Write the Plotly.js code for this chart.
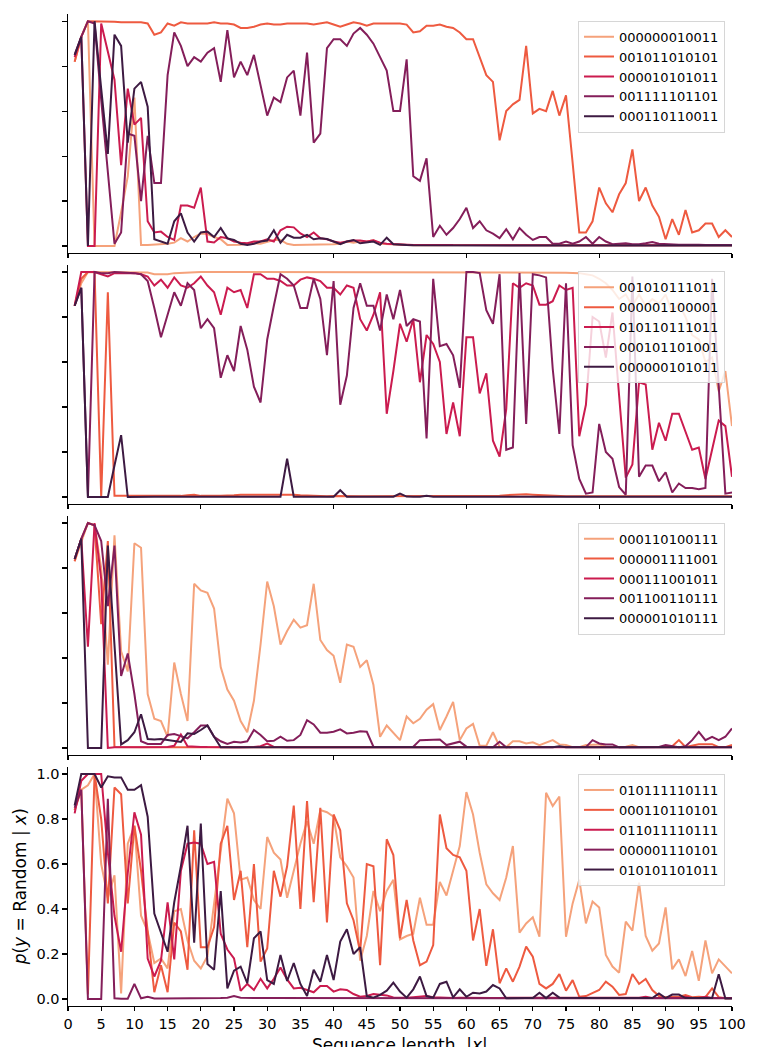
<!DOCTYPE html>
<html><head><meta charset="utf-8">
<script src="https://cdn.plot.ly/plotly-3.0.1.min.js"></script>
<style>html,body{margin:0;padding:0;background:#fff}#chart{width:761px;height:1047px}</style>
</head><body><div id="chart"></div>
<script>
const seqLen = [1,2,3,4,5,6,7,8,9,10,11,12,13,14,15,16,17,18,19,20,21,22,23,24,25,26,27,28,29,30,31,32,33,34,35,36,37,38,39,40,41,42,43,44,45,46,47,48,49,50,51,52,53,54,55,56,57,58,59,60,61,62,63,64,65,66,67,68,69,70,71,72,73,74,75,76,77,78,79,80,81,82,83,84,85,86,87,88,89,90,91,92,93,94,95,96,97,98,99,100];

const colors = ['#f5a27b', '#ee5a40', '#cb1b4f', '#841e5a', '#3d1a42'];

const names1 = ['000000010011', '001011010101', '000010101011', '001111101101', '000110110011'];
const names2 = ['001010111011', '000001100001', '010110111011', '000101101001', '000000101011'];
const names3 = ['000110100111', '000001111001', '000111001011', '001100110111', '000001010111'];
const names4 = ['010111110111', '000110110101', '011011110111', '000001110101', '010101101011'];

const xTicksBottom = [0,5,10,15,20,25,30,35,40,45,50,55,60,65,70,75,80,85,90,95,100];
const yTicks = [0.0,0.2,0.4,0.6,0.8,1.0];
const xTitle = 'Sequence length, |<i>x</i>|';
const yTitle = '<i>p</i>(<i>y</i> = Random | <i>x</i>)';

// ---- Panel 1 ----
const p1Light = [0.82,0.93,1.0,0.0,0.0,0.0,0.0,0.15,0.31,0.66,
 0.005,0.005,0.006,0.008,0.01,0.015,0.035,0.02,0.04,0.056,
 0.053,0.04,0.03,0.005,0.005,0.006,0.01,0.012,0.01,0.02,
 0.027,0.027,0.01,0.005,0.005,0.005,0.005,0.005,0.005,0.008,
 0.01,0.02,0.015,0.02,0.02,0.025,0.01,0.008,0.005,0.005,
 0.004,0.003,0.004,0.005,0.004,0.003,0.004,0.004,0.003,0.004,
 0.005,0.004,0.003,0.003,0.004,0.004,0.003,0.004,0.005,0.004,
 0.003,0.003,0.004,0.003,0.003,0.004,0.003,0.003,0.004,0.003,
 0.003,0.003,0.004,0.003,0.003,0.003,0.004,0.003,0.003,0.003,
 0.003,0.003,0.003,0.004,0.003,0.003,0.003,0.003,0.003,0.003];
const p1Orange = [0.82,0.93,1.0,1.0,1.0,1.0,0.998,0.995,0.995,0.995,
 0.995,0.99,0.94,0.95,0.99,0.98,0.995,0.99,0.99,0.99,
 0.99,0.995,0.99,0.99,0.985,0.97,0.97,0.975,0.985,0.99,
 0.985,0.985,0.99,0.99,0.99,0.99,0.985,0.99,0.995,0.985,
 0.975,0.985,0.995,0.99,0.98,0.99,0.99,0.99,0.99,0.99,
 0.985,0.95,0.955,0.98,0.98,0.985,0.975,0.97,0.95,0.92,
 0.92,0.84,0.76,0.73,0.47,0.60,0.63,0.65,0.89,0.59,
 0.61,0.60,0.69,0.58,0.67,0.37,0.06,0.06,0.11,0.26,
 0.19,0.15,0.23,0.28,0.43,0.20,0.26,0.18,0.13,0.03,
 0.12,0.05,0.16,0.06,0.07,0.10,0.10,0.04,0.07,0.04];
const p1Crimson = [0.84,0.93,0.0,0.0,0.99,0.86,0.74,0.36,0.70,0.54,
 0.57,0.11,0.06,0.064,0.04,0.027,0.18,0.18,0.17,0.26,
 0.02,0.016,0.04,0.035,0.02,0.015,0.012,0.02,0.02,0.03,
 0.02,0.07,0.086,0.083,0.056,0.04,0.06,0.034,0.03,0.02,
 0.015,0.02,0.025,0.025,0.02,0.025,0.015,0.01,0.008,0.006,
 0.005,0.005,0.004,0.005,0.004,0.004,0.005,0.004,0.004,0.004,
 0.003,0.004,0.004,0.003,0.004,0.003,0.004,0.005,0.004,0.003,
 0.003,0.004,0.003,0.003,0.004,0.003,0.003,0.003,0.004,0.003,
 0.003,0.003,0.003,0.003,0.004,0.003,0.003,0.003,0.003,0.003,
 0.003,0.003,0.003,0.003,0.003,0.003,0.003,0.003,0.003,0.003];
const p1Purple = [0.85,0.93,1.0,0.99,0.65,0.33,0.01,0.06,0.5,0.49,
 0.2,0.49,0.28,0.28,0.76,0.95,0.89,0.80,0.84,0.82,
 0.86,0.88,0.73,0.96,0.75,0.82,0.76,0.85,0.72,0.58,
 0.66,0.64,0.75,0.78,0.58,0.86,0.46,0.5,0.88,0.92,
 0.92,0.89,0.945,0.97,0.94,0.9,0.84,0.78,0.60,0.60,
 0.83,0.31,0.29,0.39,0.04,0.09,0.05,0.08,0.12,0.17,
 0.08,0.11,0.07,0.055,0.035,0.075,0.03,0.08,0.05,0.027,
 0.04,0.04,0.01,0.01,0.02,0.01,0.02,0.04,0.01,0.04,
 0.02,0.008,0.01,0.012,0.008,0.008,0.012,0.018,0.01,0.008,
 0.008,0.006,0.006,0.007,0.006,0.005,0.006,0.005,0.005,0.005];
const p1Dark = [0.85,0.93,0.0,1.0,0.7,0.41,0.94,0.89,0.46,0.70,
 0.73,0.62,0.03,0.02,0.01,0.11,0.145,0.06,0.02,0.06,
 0.064,0.04,0.08,0.034,0.027,0.01,0.005,0.01,0.02,0.024,
 0.07,0.015,0.05,0.037,0.037,0.05,0.03,0.034,0.031,0.02,
 0.008,0.02,0.027,0.012,0.015,0.02,0.005,0.037,0.008,0.005,
 0.004,0.003,0.003,0.004,0.003,0.003,0.002,0.003,0.002,0.003,
 0.002,0.002,0.003,0.002,0.002,0.002,0.003,0.002,0.002,0.002,
 0.002,0.002,0.002,0.002,0.002,0.002,0.002,0.002,0.002,0.002,
 0.002,0.002,0.002,0.002,0.002,0.002,0.002,0.002,0.002,0.002,
 0.002,0.002,0.002,0.002,0.002,0.002,0.002,0.002,0.002,0.002];

// ---- Panel 2 ----
const p2Light = [0.85,0.95,1.0,1.0,1.0,0.998,0.998,0.998,0.998,0.998,
 0.998,0.998,0.99,0.99,0.99,0.995,0.997,0.998,0.998,1.0,
 1.0,1.0,1.0,1.0,1.0,1.0,1.0,1.0,1.0,1.0,
 1.0,1.0,1.0,1.0,1.0,1.0,1.0,1.0,1.0,1.0,
 1.0,1.0,1.0,1.0,1.0,1.0,1.0,1.0,1.0,1.0,
 1.0,1.0,1.0,1.0,1.0,1.0,1.0,1.0,1.0,1.0,
 1.0,1.0,1.0,1.0,1.0,1.0,1.0,1.0,1.0,1.0,
 0.998,0.998,0.997,0.997,0.997,0.996,0.995,0.99,0.985,0.97,
 0.95,0.92,0.88,0.9,0.85,0.9,0.85,0.88,0.86,0.9,
 0.82,0.86,0.8,0.72,0.7,0.6,0.62,0.47,0.56,0.315];
const p2Orange = [0.85,0.97,1.0,1.0,0.0,0.91,0.005,0.005,0.004,0.006,
 0.004,0.004,0.003,0.003,0.004,0.004,0.005,0.008,0.01,0.005,
 0.004,0.005,0.006,0.006,0.008,0.01,0.01,0.012,0.01,0.012,
 0.01,0.01,0.012,0.01,0.008,0.006,0.004,0.004,0.003,0.004,
 0.003,0.003,0.004,0.003,0.003,0.003,0.003,0.003,0.003,0.003,
 0.003,0.003,0.003,0.003,0.003,0.003,0.003,0.003,0.003,0.004,
 0.004,0.004,0.005,0.006,0.006,0.008,0.01,0.012,0.012,0.01,
 0.008,0.006,0.005,0.004,0.003,0.003,0.003,0.003,0.003,0.003,
 0.003,0.003,0.003,0.003,0.003,0.003,0.003,0.003,0.003,0.003,
 0.003,0.003,0.003,0.003,0.003,0.003,0.003,0.003,0.003,0.003];
const p2Crimson = [0.85,1.0,1.0,1.0,0.99,0.98,0.995,0.995,0.995,0.995,
 0.99,0.98,0.94,0.966,0.93,0.976,0.94,0.93,0.95,0.98,
 0.94,0.91,0.81,0.93,0.91,0.92,0.84,0.99,0.99,0.97,
 0.97,0.96,0.94,0.94,0.966,0.976,0.97,0.96,0.93,0.93,
 0.90,0.94,0.93,0.79,0.74,0.81,0.91,0.37,0.56,0.77,
 0.69,0.79,0.51,0.72,0.68,0.60,0.28,0.42,0.27,0.71,
 0.71,0.46,0.55,0.25,0.18,0.39,0.95,0.93,0.95,0.94,
 0.855,0.855,0.87,0.94,0.92,0.93,0.27,0.41,0.80,0.78,
 0.62,0.82,0.45,0.086,0.145,0.51,0.50,0.21,0.33,0.25,
 0.37,0.37,0.29,0.21,0.22,0.08,0.21,0.34,0.315,0.09];
const p2Purple = [0.85,0.93,0.0,1.0,0.995,0.995,1.0,0.998,0.998,0.995,
 0.99,0.96,0.84,0.71,0.81,0.91,0.85,0.95,0.92,0.75,
 0.79,0.75,0.53,0.63,0.56,0.76,0.655,0.49,0.42,0.70,
 0.85,0.99,0.97,0.94,0.84,0.84,0.97,0.88,0.63,0.96,
 0.41,0.54,0.84,0.95,0.85,0.85,0.74,0.90,0.79,0.92,
 0.76,0.79,0.78,0.26,0.97,0.67,0.68,0.63,0.485,1.0,
 1.0,0.995,0.83,0.77,0.99,0.21,0.22,0.995,0.325,0.99,
 0.985,0.976,0.57,0.28,0.95,0.23,0.08,0.015,0.02,0.325,
 0.20,0.17,0.044,0.01,0.98,0.09,0.14,0.14,0.07,0.11,
 0.02,0.06,0.04,0.04,0.034,0.04,0.97,0.5,0.015,0.02];
const p2Dark = [0.85,0.93,0.0,0.0,0.0,0.0,0.14,0.275,0.0,0.001,
 0.001,0.001,0.001,0.001,0.001,0.001,0.001,0.001,0.002,0.001,
 0.001,0.001,0.001,0.002,0.001,0.001,0.001,0.001,0.001,0.001,
 0.001,0.001,0.17,0.001,0.001,0.001,0.001,0.001,0.001,0.001,
 0.03,0.001,0.001,0.001,0.001,0.001,0.001,0.001,0.001,0.015,
 0.002,0.001,0.001,0.005,0.001,0.001,0.001,0.001,0.001,0.001,
 0.001,0.001,0.001,0.001,0.001,0.001,0.001,0.001,0.001,0.001,
 0.001,0.001,0.001,0.001,0.001,0.001,0.001,0.001,0.001,0.001,
 0.001,0.001,0.001,0.001,0.001,0.001,0.001,0.001,0.001,0.001,
 0.001,0.001,0.001,0.001,0.001,0.001,0.001,0.001,0.001,0.001];

// ---- Panel 3 ----
const p3Light = [0.83,0.92,1.0,0.99,0.8,0.37,0.945,0.43,0.34,0.91,
 0.89,0.24,0.13,0.12,0.05,0.38,0.24,0.12,0.73,0.70,
 0.69,0.62,0.36,0.26,0.21,0.12,0.07,0.21,0.46,0.74,
 0.63,0.46,0.52,0.57,0.535,0.546,0.73,0.48,0.435,0.41,
 0.29,0.46,0.45,0.36,0.39,0.28,0.05,0.10,0.065,0.035,
 0.14,0.11,0.13,0.17,0.195,0.08,0.14,0.205,0.035,0.087,
 0.107,0.01,0.01,0.07,0.006,0.004,0.03,0.03,0.02,0.025,
 0.013,0.025,0.035,0.016,0.013,0.004,0.004,0.013,0.016,0.016,
 0.006,0.004,0.004,0.006,0.013,0.004,0.004,0.004,0.005,0.004,
 0.004,0.004,0.004,0.004,0.004,0.005,0.004,0.004,0.004,0.004];
const p3Orange = [0.83,0.93,1.0,0.99,0.55,0.92,0.004,0.003,0.003,0.003,
 0.003,0.003,0.003,0.003,0.003,0.003,0.003,0.003,0.003,0.003,
 0.003,0.003,0.003,0.003,0.003,0.003,0.003,0.003,0.003,0.003,
 0.003,0.003,0.003,0.003,0.003,0.003,0.003,0.003,0.003,0.003,
 0.003,0.003,0.003,0.003,0.003,0.003,0.003,0.003,0.003,0.003,
 0.003,0.003,0.003,0.003,0.003,0.003,0.003,0.003,0.003,0.003,
 0.003,0.003,0.003,0.003,0.003,0.003,0.003,0.003,0.003,0.003,
 0.003,0.003,0.003,0.003,0.003,0.003,0.003,0.003,0.003,0.003,
 0.003,0.003,0.003,0.003,0.003,0.003,0.003,0.003,0.004,0.005,
 0.008,0.035,0.005,0.01,0.017,0.017,0.017,0.004,0.004,0.013];
const p3Crimson = [0.84,0.93,0.45,1.0,0.75,0.0,0.003,0.003,0.003,0.003,
 0.003,0.003,0.003,0.003,0.004,0.01,0.06,0.008,0.008,0.005,
 0.004,0.003,0.003,0.003,0.003,0.003,0.003,0.004,0.008,0.02,
 0.005,0.003,0.003,0.003,0.003,0.003,0.003,0.003,0.003,0.003,
 0.003,0.003,0.003,0.003,0.003,0.003,0.003,0.003,0.003,0.003,
 0.003,0.003,0.003,0.003,0.003,0.003,0.003,0.003,0.003,0.003,
 0.003,0.003,0.003,0.003,0.003,0.003,0.003,0.003,0.003,0.003,
 0.003,0.003,0.003,0.003,0.003,0.003,0.003,0.003,0.003,0.003,
 0.003,0.003,0.003,0.003,0.003,0.003,0.003,0.003,0.003,0.003,
 0.003,0.003,0.003,0.003,0.003,0.003,0.003,0.003,0.003,0.003];
const p3Purple = [0.84,0.93,1.0,0.99,0.92,0.63,0.9,0.32,0.42,0.24,
 0.03,0.018,0.018,0.018,0.058,0.062,0.053,0.043,0.07,0.10,
 0.10,0.05,0.03,0.018,0.028,0.025,0.03,0.08,0.058,0.03,
 0.032,0.05,0.032,0.035,0.058,0.124,0.105,0.068,0.068,0.072,
 0.083,0.065,0.068,0.074,0.072,0.006,0.005,0.004,0.004,0.005,
 0.005,0.006,0.035,0.035,0.038,0.038,0.013,0.02,0.028,0.006,
 0.006,0.006,0.003,0.003,0.028,0.003,0.005,0.004,0.004,0.004,
 0.004,0.004,0.004,0.004,0.004,0.004,0.004,0.004,0.035,0.02,
 0.016,0.016,0.003,0.003,0.004,0.004,0.005,0.005,0.005,0.013,
 0.008,0.003,0.008,0.035,0.072,0.035,0.05,0.035,0.05,0.087];
const p3Dark = [0.84,0.93,0.0,0.0,0.0,0.9,0.45,0.016,0.035,0.07,
 0.15,0.04,0.038,0.04,0.036,0.03,0.027,0.065,0.062,0.08,
 0.1,0.05,0.003,0.003,0.003,0.003,0.003,0.003,0.003,0.003,
 0.003,0.003,0.003,0.003,0.003,0.003,0.003,0.003,0.003,0.003,
 0.003,0.003,0.003,0.003,0.003,0.003,0.003,0.003,0.003,0.003,
 0.003,0.003,0.003,0.003,0.003,0.003,0.003,0.003,0.003,0.003,
 0.003,0.003,0.003,0.003,0.003,0.003,0.003,0.003,0.003,0.003,
 0.003,0.003,0.003,0.008,0.003,0.003,0.003,0.003,0.003,0.003,
 0.003,0.003,0.003,0.003,0.003,0.003,0.003,0.003,0.003,0.003,
 0.003,0.003,0.003,0.003,0.003,0.003,0.003,0.003,0.003,0.003];

// ---- Panel 4 ----
const p4Light = [0.84,0.93,0.95,1.0,0.6,0.45,0.55,0.025,0.69,0.77,
 0.37,0.3,0.16,0.18,0.136,0.39,0.40,0.26,0.17,0.136,
 0.19,0.425,0.68,0.89,0.825,0.53,0.54,0.44,0.40,0.72,
 0.65,0.62,0.45,0.57,0.69,0.79,0.69,0.84,0.83,0.81,
 0.63,0.59,0.54,0.17,0.28,0.48,0.39,0.48,0.53,0.265,
 0.28,0.29,0.45,0.33,0.33,0.52,0.46,0.57,0.68,0.92,
 0.82,0.65,0.51,0.47,0.44,0.54,0.68,0.295,0.336,0.363,
 0.277,0.917,0.858,0.90,0.277,0.425,0.53,0.336,0.433,0.407,
 0.196,0.144,0.117,0.344,0.304,0.517,0.28,0.215,0.247,0.407,
 0.132,0.176,0.102,0.213,0.081,0.26,0.114,0.176,0.147,0.114];
const p4Orange = [0.84,0.93,0.02,1.0,0.8,0.425,0.94,0.91,0.425,0.77,
 0.57,0.29,0.03,0.15,0.03,0.34,0.3,0.13,0.75,0.23,
 0.23,0.32,0.69,0.77,0.44,0.57,0.23,0.6,0.166,0.225,
 0.57,0.455,0.59,0.86,0.40,0.88,0.43,0.85,0.34,0.82,
 0.75,0.425,0.35,0.21,0.60,0.59,0.15,0.71,0.64,0.27,
 0.44,0.26,0.15,0.166,0.24,0.82,0.67,0.64,0.63,0.57,
 0.26,0.40,0.147,0.31,0.07,0.136,0.077,0.144,0.233,0.188,
 0.067,0.047,0.067,0.111,0.037,0.084,0.01,0.013,0.028,0.04,
 0.077,0.055,0.018,0.022,0.111,0.067,0.089,0.04,0.013,0.008,
 0.01,0.01,0.018,0.008,0.01,0.008,0.047,0.008,0.003,0.003];
const p4Crimson = [0.825,0.97,1.0,1.0,1.0,0.65,0.37,0.21,0.56,0.83,
 0.73,0.18,0.10,0.17,0.43,0.176,0.57,0.69,0.695,0.69,
 0.60,0.61,0.29,0.22,0.18,0.036,0.067,0.04,0.09,0.047,
 0.09,0.14,0.087,0.047,0.05,0.04,0.03,0.058,0.058,0.033,
 0.043,0.04,0.022,0.01,0.013,0.022,0.018,0.016,0.007,0.006,
 0.006,0.008,0.01,0.013,0.008,0.006,0.005,0.005,0.006,0.005,
 0.005,0.006,0.005,0.004,0.005,0.005,0.004,0.005,0.006,0.005,
 0.004,0.005,0.004,0.004,0.005,0.004,0.004,0.006,0.005,0.004,
 0.004,0.005,0.004,0.004,0.004,0.006,0.01,0.005,0.004,0.004,
 0.004,0.005,0.01,0.004,0.004,0.01,0.004,0.004,0.004,0.004];
const p4Purple = [0.85,0.93,0.0,0.0,0.0,0.89,0.003,0.001,0.001,0.067,
 0.003,0.01,0.002,0.002,0.002,0.002,0.002,0.003,0.004,0.004,
 0.003,0.003,0.004,0.006,0.013,0.006,0.004,0.004,0.004,0.004,
 0.003,0.003,0.003,0.003,0.003,0.003,0.003,0.003,0.003,0.003,
 0.003,0.003,0.003,0.003,0.003,0.005,0.003,0.003,0.003,0.006,
 0.003,0.003,0.003,0.003,0.003,0.003,0.003,0.003,0.003,0.003,
 0.003,0.003,0.003,0.003,0.003,0.003,0.003,0.003,0.003,0.003,
 0.003,0.003,0.003,0.003,0.003,0.003,0.003,0.003,0.003,0.003,
 0.003,0.003,0.003,0.003,0.003,0.003,0.003,0.003,0.003,0.003,
 0.003,0.003,0.003,0.003,0.003,0.003,0.003,0.003,0.003,0.003];
const p4Dark = [0.86,1.0,1.0,1.0,0.94,0.99,0.985,0.985,0.93,0.93,
 0.95,0.81,0.38,0.29,0.21,0.43,0.59,0.77,0.25,0.78,
 0.155,0.13,0.48,0.047,0.126,0.144,0.07,0.27,0.30,0.084,
 0.067,0.196,0.08,0.16,0.067,0.013,0.13,0.077,0.196,0.084,
 0.255,0.31,0.2,0.23,0.013,0.006,0.018,0.037,0.073,0.033,
 0.006,0.043,0.10,0.013,0.006,0.067,0.077,0.007,0.043,0.01,
 0.028,0.025,0.033,0.062,0.047,0.003,0.004,0.006,0.005,0.004,
 0.028,0.004,0.028,0.006,0.005,0.004,0.004,0.004,0.004,0.004,
 0.004,0.004,0.004,0.004,0.004,0.004,0.004,0.004,0.025,0.004,
 0.02,0.02,0.004,0.004,0.004,0.004,0.004,0.11,0.002,0.002];

const panels = [
  {names: names1, series: [p1Light, p1Orange, p1Crimson, p1Purple, p1Dark], ax: '', leg: 'legend'},
  {names: names2, series: [p2Light, p2Orange, p2Crimson, p2Purple, p2Dark], ax: '2', leg: 'legend2'},
  {names: names3, series: [p3Light, p3Orange, p3Crimson, p3Purple, p3Dark], ax: '3', leg: 'legend3'},
  {names: names4, series: [p4Light, p4Orange, p4Crimson, p4Purple, p4Dark], ax: '4', leg: 'legend4'}
];

const traces = [];
panels.forEach(p => {
  p.series.forEach((vals, i) => {
    traces.push({
      x: seqLen, y: vals, type: 'scatter', mode: 'lines',
      name: p.names[i], legend: p.leg,
      xaxis: 'x' + p.ax, yaxis: 'y' + p.ax,
      line: {color: colors[i], width: 2},
      hoverinfo: 'skip'
    });
  });
});

const FONT = 'DejaVu Sans, sans-serif';
const H = 1047, T = 14, B = 41;
const PH = H - T - B;
function paperY(px) { return (H - B - px) / PH; }

const panelPx = [[13.8, 252.75], [264.8, 503.75], [515.8, 754.75], [766.8, 1005.75]];
const legendTop = [20.7, 271.3, 522.7, 774];

function xAxis(i) {
  const bottom = i === 3;
  return {
    domain: [0, 1], anchor: 'y' + (i === 0 ? '' : (i + 1)),
    range: [0, 100], showgrid: false, zeroline: false,
    showline: true, linecolor: '#000', linewidth: 1.1,
    ticks: 'outside', ticklen: 4.5, tickwidth: 1.1, tickcolor: '#000',
    tickmode: bottom ? 'array' : 'linear',
    tickvals: bottom ? xTicksBottom : undefined,
    ticktext: bottom ? xTicksBottom.map(String) : undefined,
    tick0: 0, dtick: 20,
    showticklabels: bottom,
    tickfont: {family: FONT, size: 14.5, color: '#000'},
    title: {text: ''},
    automargin: false
  };
}
function yAxis(i) {
  const bottom = i === 3;
  const pp = panelPx[i];
  return {
    domain: [paperY(pp[1]), paperY(pp[0])], anchor: 'x' + (i === 0 ? '' : (i + 1)),
    range: [-0.03, 1.032], showgrid: false, zeroline: false,
    showline: true, linecolor: '#000', linewidth: 1.1,
    ticks: 'outside', ticklen: 4.5, tickwidth: 1.1, tickcolor: '#000',
    tickmode: 'array', tickvals: yTicks,
    ticktext: yTicks.map(v => v.toFixed(1)),
    showticklabels: bottom,
    tickfont: {family: FONT, size: 14.5, color: '#000'},
    title: bottom ? {text: yTitle, font: {family: FONT, size: 17, color: '#000'}, standoff: 5} : {text: ''},
    automargin: false
  };
}

const layout = {
  width: 761, height: 1047,
  margin: {l: 68, r: 29, t: T, b: B, pad: 0},
  paper_bgcolor: '#fff', plot_bgcolor: '#fff',
  font: {family: FONT, color: '#000'},
  showlegend: true,
  annotations: [{
    text: xTitle, xref: 'paper', yref: 'paper',
    x: 0.5, y: paperY(1045), xanchor: 'center', yanchor: 'middle',
    showarrow: false, font: {family: FONT, size: 17, color: '#000'}
  }]
};
for (let i = 0; i < 4; i++) {
  const sfx = i === 0 ? '' : String(i + 1);
  layout['xaxis' + sfx] = xAxis(i);
  layout['yaxis' + sfx] = yAxis(i);
  layout['legend' + sfx] = {
    x: (725 - 68) / (761 - 68 - 29), xanchor: 'right',
    y: paperY(legendTop[i]), yanchor: 'top',
    bgcolor: 'rgba(255,255,255,0.8)', bordercolor: '#d6d6d6', borderwidth: 1,
    font: {family: FONT, size: 13, color: '#000'},
    itemwidth: 30, tracegroupgap: 0
  };
}

Plotly.newPlot('chart', traces, layout, {staticPlot: true, displayModeBar: false});
</script>
</body></html>
